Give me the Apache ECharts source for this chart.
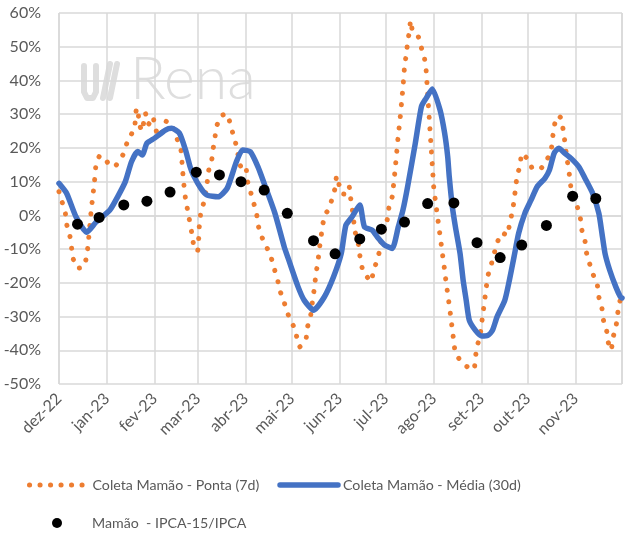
<!DOCTYPE html>
<html lang="pt">
<head>
    <meta charset="UTF-8">
    <title>Mamão</title>
    <script src="https://cdn.jsdelivr.net/npm/echarts@6/dist/echarts.min.js"></script>
    <style>
        html, body { margin: 0; padding: 0; background: #fff; }
        #main { width: 631px; height: 536px; }
    </style>
</head>
<body>
    <div id="main"></div>
    <script>
        // meses para os rótulos do eixo x
        var meses = ['jan', 'fev', 'mar', 'abr', 'mai', 'jun', 'jul', 'ago', 'set', 'out', 'nov', 'dez'];

        // Coleta Mamão - Ponta (7d)
        var pontaDatas = [
            '2022-12-01','2022-12-03','2022-12-05','2022-12-06','2022-12-08','2022-12-09','2022-12-10','2022-12-13','2022-12-17','2022-12-19',
            '2022-12-20','2022-12-21','2022-12-22','2022-12-23','2022-12-24','2022-12-25','2022-12-27','2022-12-29','2023-01-02','2023-01-06',
            '2023-01-09','2023-01-12','2023-01-14','2023-01-17','2023-01-19','2023-01-20','2023-01-21','2023-01-22','2023-01-24','2023-01-25',
            '2023-01-26','2023-01-28','2023-01-31','2023-02-01','2023-02-04','2023-02-09','2023-02-13','2023-02-15','2023-02-18','2023-02-19',
            '2023-02-20','2023-02-21','2023-02-23','2023-02-25','2023-02-26','2023-02-27','2023-03-01','2023-03-02','2023-03-03','2023-03-05',
            '2023-03-07','2023-03-08','2023-03-10','2023-03-11','2023-03-12','2023-03-13','2023-03-16','2023-03-20','2023-03-22','2023-03-24',
            '2023-03-26','2023-03-29','2023-04-01','2023-04-02','2023-04-04','2023-04-06','2023-04-08','2023-04-09','2023-04-11','2023-04-14',
            '2023-04-17','2023-04-19','2023-04-21','2023-04-22','2023-04-23','2023-04-25','2023-04-27','2023-04-29','2023-05-02','2023-05-04',
            '2023-05-06','2023-05-10','2023-05-11','2023-05-13','2023-05-14','2023-05-15','2023-05-16','2023-05-17','2023-05-18','2023-05-19',
            '2023-05-20','2023-05-21','2023-05-23','2023-05-25','2023-05-27','2023-05-29','2023-05-30','2023-06-01','2023-06-02','2023-06-04',
            '2023-06-07','2023-06-08','2023-06-09','2023-06-11','2023-06-13','2023-06-14','2023-06-16','2023-06-18','2023-06-21','2023-06-23',
            '2023-06-25','2023-06-27','2023-06-28','2023-06-30','2023-07-02','2023-07-03','2023-07-05','2023-07-06','2023-07-07','2023-07-08',
            '2023-07-09','2023-07-10','2023-07-11','2023-07-12','2023-07-13','2023-07-14','2023-07-15','2023-07-16','2023-07-17','2023-07-18',
            '2023-07-20','2023-07-22','2023-07-24','2023-07-26','2023-07-27','2023-07-28','2023-07-29','2023-07-30','2023-07-31','2023-08-01',
            '2023-08-02','2023-08-03','2023-08-04','2023-08-05','2023-08-06','2023-08-07','2023-08-08','2023-08-09','2023-08-10','2023-08-11',
            '2023-08-12','2023-08-13','2023-08-14','2023-08-15','2023-08-19','2023-08-23','2023-08-27','2023-08-28','2023-08-29','2023-08-31',
            '2023-09-01','2023-09-02','2023-09-03','2023-09-04','2023-09-05','2023-09-07','2023-09-09','2023-09-11','2023-09-14','2023-09-18',
            '2023-09-19','2023-09-21','2023-09-22','2023-09-23','2023-09-24','2023-09-26','2023-09-27','2023-10-02','2023-10-04','2023-10-09',
            '2023-10-13','2023-10-16','2023-10-17','2023-10-18','2023-10-20','2023-10-22','2023-10-24','2023-10-25','2023-10-26','2023-10-28',
            '2023-10-29','2023-11-02','2023-11-04','2023-11-05','2023-11-07','2023-11-08','2023-11-10','2023-11-12','2023-11-15','2023-11-16',
            '2023-11-18','2023-11-19','2023-11-21','2023-11-22','2023-11-24','2023-11-25','2023-11-27','2023-11-28','2023-11-29','2023-12-01'
        ];
        var pontaValores = [
            7, 4, 1, -2.7, -6, -9, -12.6, -15.7, -15.3, -12,
            -8, -3, 2, 6, 10, 15, 17.4, 17.7, 15.4, 14.4,
            16.2, 18.4, 21.4, 24.1, 26, 31, 31.8, 27, 25, 28,
            30.3, 27, 29.3, 26.3, 23.3, 28.1, 25.8, 23.3, 19.6, 14,
            9, 5, 0, -5, -8, -10.5, -10.3, -3, 1, 4,
            9.5, 13.2, 16.4, 19.9, 22.6, 26.1, 29.5, 30.1, 27.1, 23.8,
            20.6, 14.4, 14.9, 10.5, 7.3, 4, 0.8, -2.7, -5.9, -8.8,
            -11.8, -14.8, -18.2, -19.7, -22.2, -24.2, -27.4, -29.9, -32.8, -35.8,
            -39, -37, -33.3, -30.1, -26.6, -23.5, -19.7, -16.2, -13.1, -9.3,
            -6.1, -2.6, 0.6, 1.8, 4.9, 8.1, 11.7, 8.3, 6.5, 6.3,
            8.7, 5.3, 2.4, -4.9, -8.3, -11.8, -16.5, -17.7, -19.7, -16.5,
            -13.5, -10.3, -7, -3.9, -0.9, 2.6, 5.5, 9.5, 14, 19,
            24, 28, 33, 38, 44, 47.3, 51.1, 54.2, 57.8, 55,
            53.5, 52.9, 49.6, 46.4, 43, 36, 29, 22, 15, 8,
            4.5, 1, -2.4, -5.9, -9.3, -12.8, -16.2, -20, -23.2, -26.6,
            -30.1, -33.9, -37.5, -40.8, -43.5, -45, -45.7, -42, -39, -35.6,
            -32, -28.6, -25, -21.4, -18, -15, -11.5, -8.3, -5.2, -5.9,
            -2.4, 1.1, 4.5, 8, 11.7, 14.9, 18.4, 16.1, 13.8, 13.8,
            16.2, 19.2, 22.9, 26.3, 29.5, 29.1, 25.1, 21.6, 17.9, 11.7,
            8, 2.6, -0.9, -4.4, -7.6, -11.1, -14.3, -17.2, -20.7, -24.2,
            -27.6, -31.1, -34.1, -37.5, -40, -36.5, -33.3, -29.9, -26.6, -23.2
        ];

        // Coleta Mamão - Média (30d)
        var mediaDatas = [
            '2022-12-01','2022-12-06','2022-12-12','2022-12-19','2022-12-25','2023-01-03','2023-01-08','2023-01-13','2023-01-17','2023-01-21',
            '2023-01-24','2023-01-27','2023-02-01','2023-02-08','2023-02-12','2023-02-17','2023-02-21','2023-02-24','2023-02-26','2023-03-03',
            '2023-03-07','2023-03-14','2023-03-20','2023-03-26','2023-03-30','2023-04-04','2023-04-09','2023-04-13','2023-04-20','2023-04-26',
            '2023-04-29','2023-05-05','2023-05-09','2023-05-15','2023-05-22','2023-05-28','2023-06-02','2023-06-05','2023-06-09','2023-06-14',
            '2023-06-17','2023-06-22','2023-06-26','2023-06-30','2023-07-05','2023-07-09','2023-07-12','2023-07-15','2023-07-20','2023-07-24',
            '2023-07-27','2023-07-31','2023-08-05','2023-08-08','2023-08-10','2023-08-11','2023-08-13','2023-08-15','2023-08-18','2023-08-20',
            '2023-08-22','2023-08-24','2023-08-28','2023-09-01','2023-09-05','2023-09-08','2023-09-11','2023-09-16','2023-09-19','2023-09-22',
            '2023-09-25','2023-09-29','2023-10-03','2023-10-07','2023-10-12','2023-10-15','2023-10-18','2023-10-21','2023-10-25','2023-10-29',
            '2023-11-03','2023-11-07','2023-11-12','2023-11-16','2023-11-18','2023-11-20','2023-11-23','2023-11-27','2023-11-30','2023-12-01'
        ];
        var mediaValores = [
            9.5, 6.5, -0.4, -5, -2, 1.6, 5.5, 10, 15.9, 18.9,
            17.9, 21.4, 22.9, 25.3, 25.8, 24.4, 19.4, 14.4, 12, 8,
            6, 5.5, 8, 15.9, 19.4, 18.9, 14.4, 9.5, 0.6, -9.3,
            -13.3, -21.2, -25.2, -28.1, -24.2, -18.2, -11.3, -2.9, -0.4, 3.1,
            -3.4, -4.4, -6.8, -8.8, -9.8, -3.4, 1.6, 8.5, 21.4, 32.3,
            34.7, 37.5, 31.3, 24.4, 17.4, 11.5, 2.6, -3.4, -11.3, -19.2,
            -25.2, -31.1, -34.1, -35.8, -35.6, -34.1, -30.1, -25.2, -19.2, -12.3,
            -5.3, 0.6, 4.5, 8.5, 11, 13.5, 18.4, 19.9, 18.4, 16.9,
            14.4, 11, 6.5, 0.6, -5.3, -11.3, -16.2, -21.2, -24.2, -24.5
        ];

        // Mamão - IPCA-15/IPCA
        var ipcaDatas = [
            '2022-12-13','2022-12-27','2023-01-12','2023-01-27','2023-02-11','2023-02-28','2023-03-15','2023-03-29','2023-04-13','2023-04-28',
            '2023-05-15','2023-05-29','2023-06-14','2023-06-28','2023-07-13','2023-07-28','2023-08-14','2023-08-29','2023-09-13','2023-09-27',
            '2023-10-13','2023-10-30','2023-11-14'
        ];
        var ipcaValores = [
            -2.6, -0.6, 3.1, 4.2, 6.9, 12.8, 12, 10, 7.5, 0.6,
            -7.5, -11.4, -7, -4.1, -2, 3.5, 3.7, -8.1, -12.5, -8.8,
            -3, 5.7, 5
        ];

        function pares(datas, valores) {
            return datas.map(function (d, i) { return [d, valores[i]]; });
        }

        var fonte = 'Lato, "Liberation Sans", sans-serif';
        var cinza = '#595959';
        var grade = '#d9d9d9';
        var marca = '#dedede';
        var laranja = '#ED7D31';
        var azul = '#4472C4';
        var pontilhado = [0.1, 10.4];

        var myChart = echarts.init(document.getElementById('main'));

        var option = {
            animation: false,
            backgroundColor: '#ffffff',
            grid: {
                left: 59,
                right: 9,
                top: 13,
                bottom: 152
            },
            // marca d'água
            graphic: [{
                type: 'polyline',
                silent: true,
                z: 0,
                shape: { points: [[84, 66], [84, 92], [87, 98], [93, 98], [96, 92], [96, 66]] },
                style: { stroke: marca, lineWidth: 6, fill: null, lineJoin: 'round', lineCap: 'round' }
            }, {
                type: 'line',
                silent: true,
                z: 0,
                shape: { x1: 103, y1: 98, x2: 110, y2: 64 },
                style: { stroke: marca, lineWidth: 6, lineCap: 'round' }
            }, {
                type: 'line',
                silent: true,
                z: 0,
                shape: { x1: 110, y1: 98, x2: 117, y2: 64 },
                style: { stroke: marca, lineWidth: 6, lineCap: 'round' }
            }, {
                type: 'text',
                silent: true,
                z: 0,
                x: 130,
                y: 50,
                style: { text: 'Rena', fill: marca, font: '300 59px Lato, sans-serif' }
            }],
            legend: [{
                left: 27,
                top: 478,
                padding: 0,
                itemWidth: 58,
                itemHeight: 10,
                itemGap: 18,
                itemStyle: { opacity: 0 },
                data: [{
                    name: 'Coleta Mamão - Ponta (7d)',
                    lineStyle: { width: 5, type: pontilhado, cap: 'round', color: laranja }
                }, {
                    name: 'Coleta Mamão - Média (30d)',
                    lineStyle: { width: 5.5, cap: 'round', color: azul }
                }],
                textStyle: { color: cinza, fontSize: 14.2, fontFamily: fonte }
            }, {
                left: 52,
                top: 516,
                padding: 0,
                itemWidth: 10,
                itemHeight: 10,
                data: [{ name: 'Mamão  - IPCA-15/IPCA', icon: 'circle' }],
                textStyle: { color: cinza, fontSize: 14.2, fontFamily: fonte, padding: [0, 0, 0, 25] }
            }],
            xAxis: {
                type: 'time',
                min: '2022-12-01',
                max: '2023-12-01',
                splitNumber: 12,
                minInterval: 28 * 24 * 3600 * 1000,
                axisLine: { show: true, lineStyle: { color: grade, width: 1.5 } },
                axisTick: { show: true, length: 5, lineStyle: { color: grade, width: 1.5 } },
                splitLine: { show: true, lineStyle: { color: grade, width: 1.5 } },
                axisLabel: {
                    rotate: 45,
                    margin: 12,
                    color: cinza,
                    fontSize: 16,
                    fontFamily: fonte,
                    showMaxLabel: false,
                    hideOverlap: false,
                    formatter: function (value) {
                        var d = new Date(value);
                        if (d.getFullYear() === 2023 && d.getMonth() === 11) return '';
                        return meses[d.getMonth()] + '-' + String(d.getFullYear()).slice(2);
                    }
                }
            },
            yAxis: {
                type: 'value',
                min: -50,
                max: 60,
                interval: 10,
                axisLine: { show: false },
                axisTick: { show: false },
                splitLine: { lineStyle: { color: grade, width: 1.5 } },
                axisLabel: {
                    formatter: '{value}%',
                    color: cinza,
                    fontSize: 16,
                    fontFamily: fonte,
                    margin: 18
                }
            },
            series: [{
                name: 'Coleta Mamão - Ponta (7d)',
                type: 'line',
                data: pares(pontaDatas, pontaValores),
                showSymbol: false,
                symbol: 'none',
                smooth: 0.15,
                lineStyle: { color: laranja, width: 5, type: [0.1, 11.5], cap: 'round' },
                itemStyle: { color: laranja },
                z: 2
            }, {
                name: 'Coleta Mamão - Média (30d)',
                type: 'line',
                data: pares(mediaDatas, mediaValores),
                showSymbol: false,
                symbol: 'none',
                smooth: 0.2,
                lineStyle: { color: azul, width: 5.5, cap: 'round', join: 'round' },
                itemStyle: { color: azul },
                z: 3
            }, {
                name: 'Mamão  - IPCA-15/IPCA',
                type: 'scatter',
                data: pares(ipcaDatas, ipcaValores),
                symbolSize: 11,
                itemStyle: { color: '#000000', opacity: 1 },
                z: 4
            }]
        };

        myChart.setOption(option);
        window.onresize = myChart.resize;
    </script>
</body>
</html>
